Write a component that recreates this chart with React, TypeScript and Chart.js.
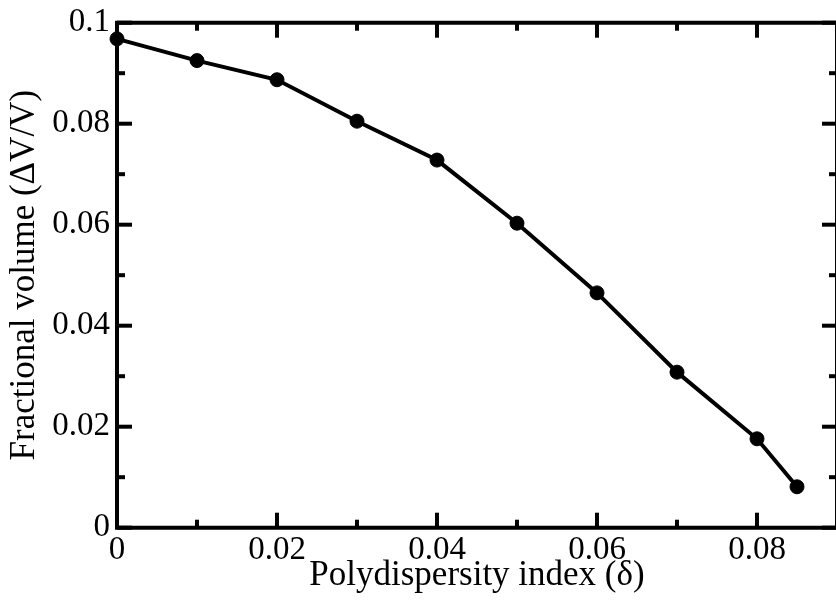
import React, { useEffect, useRef } from "react";
import { Chart, registerables } from "chart.js";

Chart.register(...registerables);

// Data
const polydispersity = [0, 0.01, 0.02, 0.03, 0.04, 0.05, 0.06, 0.07, 0.08, 0.085];
const fractionalVolume = [0.0968, 0.0925, 0.0887, 0.0805, 0.0728, 0.0603, 0.0465, 0.0308, 0.0176, 0.0081];

// Axes
const xMin = 0;
const xMax = 0.09;
const yMin = 0;
const yMax = 0.1;
const xTickValues = [0, 0.02, 0.04, 0.06, 0.08];
const xTickLabels = ["0", "0.02", "0.04", "0.06", "0.08"];
const xMinorTicks = [0.01, 0.03, 0.05, 0.07, 0.09];
const yTickValues = [0, 0.02, 0.04, 0.06, 0.08, 0.1];
const yTickLabels = ["0", "0.02", "0.04", "0.06", "0.08", "0.1"];
const yMinorTicks = [0.01, 0.03, 0.05, 0.07, 0.09];

const xTitle = "Polydispersity index (δ)";
const yTitle = "Fractional volume (ΔV/V)";

const FONT = "'Liberation Serif', 'Times New Roman', Times, serif";

const framePlugin = {
  id: "frameTicks",
  beforeDatasetsDraw(chart: any) {
    const { ctx, chartArea: a, scales } = chart;
    const xs = scales.x;
    const ys = scales.y;
    const major = 15;
    const minor = 8;
    ctx.save();
    ctx.strokeStyle = "#000";
    ctx.lineWidth = 4;
    ctx.lineCap = "butt";
    ctx.beginPath();
    ctx.rect(a.left, a.top, a.right - a.left, a.bottom - a.top);
    ctx.stroke();
    const seg = (x1: number, y1: number, x2: number, y2: number) => {
      ctx.beginPath();
      ctx.moveTo(x1, y1);
      ctx.lineTo(x2, y2);
      ctx.stroke();
    };
    xTickValues.forEach((v) => {
      const x = xs.getPixelForValue(v);
      seg(x, a.bottom, x, a.bottom - major);
      seg(x, a.top, x, a.top + major);
    });
    xMinorTicks.forEach((v) => {
      const x = xs.getPixelForValue(v);
      seg(x, a.bottom, x, a.bottom - minor);
      seg(x, a.top, x, a.top + minor);
    });
    yTickValues.forEach((v) => {
      const y = ys.getPixelForValue(v);
      seg(a.left, y, a.left + major, y);
      seg(a.right, y, a.right - major, y);
    });
    yMinorTicks.forEach((v) => {
      const y = ys.getPixelForValue(v);
      seg(a.left, y, a.left + minor, y);
      seg(a.right, y, a.right - minor, y);
    });
    ctx.restore();
  },
};

const zeroPadding = (s: any) => {
  s.paddingLeft = 0;
  s.paddingRight = 0;
  s.paddingTop = 0;
  s.paddingBottom = 0;
};

export default function App() {
  const canvasRef = useRef<HTMLCanvasElement | null>(null);

  useEffect(() => {
    const canvas = canvasRef.current;
    if (!canvas) return;
    const chart = new Chart(canvas, {
      type: "line",
      data: {
        datasets: [
          {
            data: polydispersity.map((x, i) => ({ x, y: fractionalVolume[i] })),
            borderColor: "#000",
            backgroundColor: "#000",
            borderWidth: 4,
            pointRadius: 7,
            pointBorderWidth: 1,
            pointBackgroundColor: "#000",
            pointBorderColor: "#000",
            tension: 0,
            clip: false as any,
          },
        ],
      },
      options: {
        animation: false,
        responsive: false,
        maintainAspectRatio: false,
        events: [],
        layout: { padding: { top: 22.7, right: 0, left: 0, bottom: 0 } },
        plugins: { legend: { display: false }, tooltip: { enabled: false } },
        scales: {
          x: {
            type: "linear",
            min: xMin,
            max: xMax,
            border: { display: false },
            grid: { display: false, drawTicks: false },
            afterBuildTicks: (s: any) => {
              s.ticks = xTickValues.map((value) => ({ value }));
            },
            afterFit: (s: any) => {
              s.height = 74.3;
              zeroPadding(s);
            },
            ticks: {
              color: "#000",
              padding: 3,
              maxRotation: 0,
              autoSkip: false,
              font: { family: FONT, size: 33 },
              callback: (_v: any, i: number) => xTickLabels[i],
            },
            title: {
              display: true,
              text: xTitle,
              color: "#000",
              font: { family: FONT, size: 35 },
              padding: { top: 0, bottom: 5 },
            },
          },
          y: {
            type: "linear",
            min: yMin,
            max: yMax,
            border: { display: false },
            grid: { display: false, drawTicks: false },
            afterBuildTicks: (s: any) => {
              s.ticks = yTickValues.map((value) => ({ value }));
            },
            afterFit: (s: any) => {
              s.width = 117;
              zeroPadding(s);
            },
            ticks: {
              color: "#000",
              padding: 7,
              autoSkip: false,
              font: { family: FONT, size: 33 },
              callback: (_v: any, i: number) => yTickLabels[i],
            },
            title: {
              display: true,
              text: yTitle,
              color: "#000",
              font: { family: FONT, size: 35 },
              padding: { top: 4, bottom: 0 },
            },
          },
        },
      },
      plugins: [framePlugin],
    });
    return () => chart.destroy();
  }, []);

  return (
    <div
      style={{
        position: "fixed",
        left: 0,
        top: 0,
        width: 836,
        height: 602,
        overflow: "hidden",
        background: "#fff",
      }}
    >
      <canvas ref={canvasRef} width={845} height={602} style={{ display: "block" }} />
    </div>
  );
}
